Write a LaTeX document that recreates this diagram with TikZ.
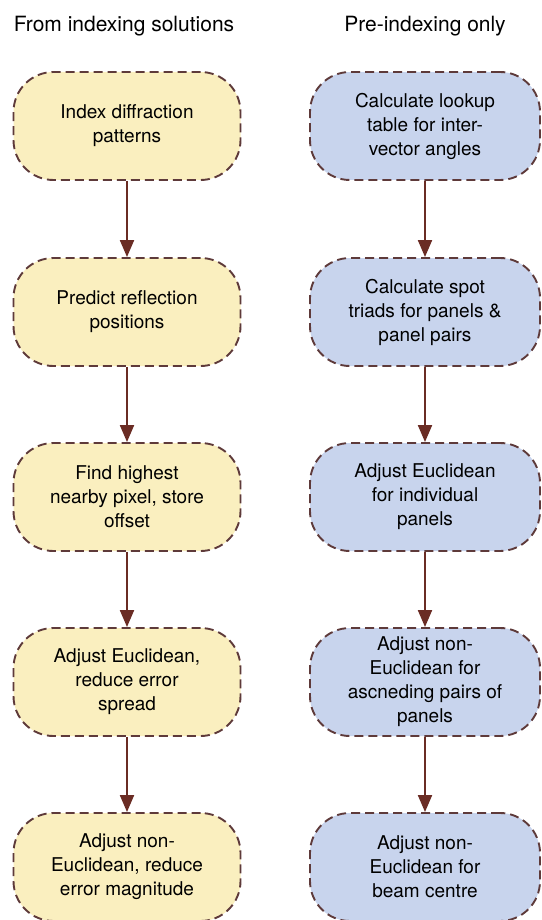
\documentclass[tikz,border=0pt]{standalone}
\usepackage{fontspec}
\setmainfont{TeX Gyre Heros}
\usetikzlibrary{arrows.meta}
\definecolor{yel}{HTML}{FAEFBF}
\definecolor{blu}{HTML}{C8D4ED}
\definecolor{bord}{HTML}{5E3A3A}
\definecolor{arr}{HTML}{6A2C24}
\tikzset{
  boxbase/.style={draw=bord, line width=1.9pt, dash pattern=on 9pt off 5pt, rounded corners=40pt, align=center, font=\fontsize{19}{24}\selectfont, inner sep=0pt},
  ybox/.style={boxbase, fill=yel, minimum width=227pt, minimum height=108pt},
  bbox/.style={boxbase, fill=blu, minimum width=230pt, minimum height=108pt},
  flow/.style={draw=arr, line width=2pt, -{Triangle[length=17pt,width=14pt]}},
  ttl/.style={font=\fontsize{21}{24}\selectfont}
}
\begin{document}
\begin{tikzpicture}[x=1pt,y=-1pt]
\useasboundingbox (0,0) rectangle (541,920);
\node[ttl] (t1) at (124,26) {From indexing solutions};
\node[ttl] (t2) at (425,26) {Pre-indexing only};
\node[ybox] (l1) at (127,126) {Index diffraction\\patterns};
\node[ybox] (l2) at (127,312) {Predict reflection\\positions};
\node[ybox] (l3) at (127,497) {Find highest\\nearby pixel, store\\offset};
\node[ybox] (l4) at (127,682) {Adjust Euclidean,\\reduce error\\spread};
\node[ybox] (l5) at (127,867) {Adjust non-\\Euclidean, reduce\\error magnitude};
\node[bbox] (r1) at (425,126) {Calculate lookup\\table for inter-\\vector angles};
\node[bbox] (r2) at (425,312) {Calculate spot\\triads for panels \&\\panel pairs};
\node[bbox] (r3) at (425,497) {Adjust Euclidean\\for individual\\panels};
\node[bbox] (r4) at (425,682) {Adjust non-\\Euclidean for\\ascneding pairs of\\panels};
\node[bbox] (r5) at (425,867) {Adjust non-\\Euclidean for\\beam centre};
\foreach \a/\b in {l1/l2,l2/l3,l3/l4,l4/l5,r1/r2,r2/r3,r3/r4,r4/r5}
  \draw[flow] (\a) -- (\b);
\end{tikzpicture}
\end{document}
